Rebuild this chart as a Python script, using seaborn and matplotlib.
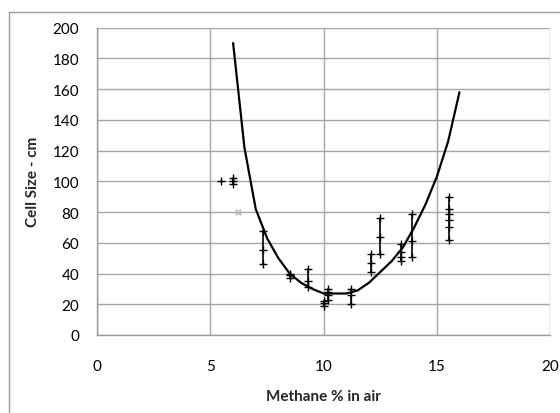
import matplotlib
matplotlib.use("Agg")
import matplotlib.pyplot as plt
from matplotlib.patches import Rectangle
import seaborn as sns
import pandas as pd

# measured cell sizes, grouped by methane concentration
meas_x = [5.45,
          6.0, 6.0, 6.0,
          7.3, 7.3, 7.3,
          8.5, 8.5, 8.5,
          9.3, 9.3, 9.3,
          10.0, 10.0, 10.0,
          10.2, 10.2, 10.2, 10.2,
          11.2, 11.2, 11.2,
          12.1, 12.1, 12.1,
          12.5, 12.5, 12.5,
          13.4, 13.4, 13.4, 13.4,
          13.9, 13.9, 13.9,
          15.55, 15.55, 15.55, 15.55, 15.55, 15.55]
meas_y = [100,
          98, 100, 102,
          46, 55, 68,
          37, 39, 40,
          31, 35, 43,
          19, 21, 22,
          23, 26, 28, 30,
          20, 26, 30,
          41, 47, 53,
          53, 64, 76,
          48, 51, 54, 59,
          51, 61, 79,
          62, 70, 75, 79, 82, 90]
meas_group = [0,
              1, 1, 1,
              2, 2, 2,
              3, 3, 3,
              4, 4, 4,
              5, 5, 5,
              6, 6, 6, 6,
              7, 7, 7,
              8, 8, 8,
              9, 9, 9,
              10, 10, 10, 10,
              11, 11, 11,
              12, 12, 12, 12, 12, 12]

# odd point (light grey)
odd_x = [6.2]
odd_y = [80]

# fitted curve
fit_x = [6.0, 6.5, 7.0, 7.5, 8.0, 8.5, 9.0, 9.5, 10.0, 10.5, 11.0,
         11.5, 12.0, 12.5, 13.0, 13.5, 14.0, 14.5, 15.0, 15.5, 16.0]
fit_y = [190, 122, 82, 63, 50, 40, 34, 30, 27, 27, 27,
         29, 34, 41, 48, 57, 70, 85, 103, 126, 158]

x_ticks = [0, 5, 10, 15, 20]
y_ticks = [0, 20, 40, 60, 80, 100, 120, 140, 160, 180, 200]

sns.set_style("white")
plt.rcParams["font.family"] = ["Lato", "DejaVu Sans"]

meas = pd.DataFrame({"x": meas_x, "y": meas_y, "g": meas_group})
fit = pd.DataFrame({"x": fit_x, "y": fit_y})
odd = pd.DataFrame({"x": odd_x, "y": odd_y})

fig = plt.figure(figsize=(5.6, 4.14), dpi=100)
fig.patches.append(Rectangle((9 / 560, -0.1), 1.2, 0.1 + (414 - 12.7) / 414,
                             transform=fig.transFigure, fill=False,
                             edgecolor="#9a9a9a", linewidth=1.0))
ax = fig.add_axes([97.3 / 560, (414 - 336) / 414, (550 - 97.3) / 560, (336 - 28.7) / 414])

# each concentration: vertical line joining its readings, "+" on each reading
for g, sub in meas.groupby("g"):
    ax.plot(sub["x"], sub["y"], color="black", linewidth=1.2, marker="+",
            markersize=5.5, markeredgewidth=1.0, markeredgecolor="black")

sns.scatterplot(data=odd, x="x", y="y", marker="x", color="#bdbdbd", s=14,
                linewidth=1.5, ax=ax)
sns.lineplot(data=fit, x="x", y="y", color="black", linewidth=1.6, sort=False, ax=ax)

ax.set_xlim(0, 20)
ax.set_ylim(0, 200)
ax.set_xticks(x_ticks)
ax.set_yticks(y_ticks)
ax.grid(True, color="#a6a6a6", linewidth=1.0)
ax.set_axisbelow(True)
for s in ["top", "right"]:
    ax.spines[s].set_visible(False)
for s in ["left", "bottom"]:
    ax.spines[s].set_color("#9a9a9a")
    ax.spines[s].set_linewidth(1.0)
ax.tick_params(axis="both", direction="out", length=5, width=1, color="#9a9a9a",
               labelsize=11, labelcolor="black")
ax.tick_params(axis="x", pad=12)
ax.tick_params(axis="y", pad=8)
ax.set_xlabel("Methane % in air", fontsize=11, fontweight="bold", labelpad=12)
ax.set_ylabel("Cell Size - cm", fontsize=11, fontweight="bold", labelpad=9)

fig.savefig("out.png", dpi=100)
